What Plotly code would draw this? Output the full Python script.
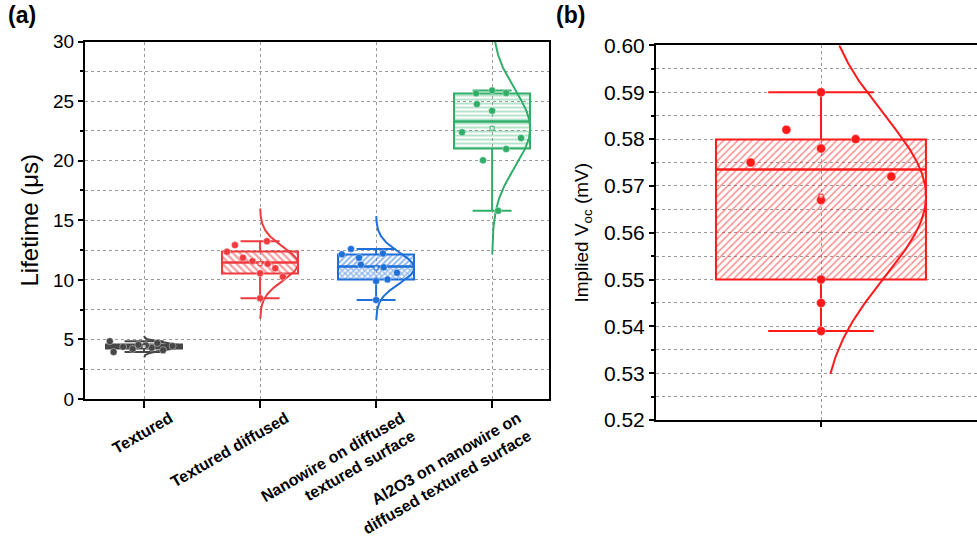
import numpy as np
import plotly.graph_objects as go

# ---- data -------------------------------------------------------------
categories = [
    "Textured",
    "Textured diffused",
    "Nanowire on diffused<br>textured surface",
    "Al2O3 on nanowire on<br>diffused textured surface",
]
lifetime_textured = [3.95, 4.10, 4.20, 4.30, 4.38, 4.45, 4.50, 4.55, 4.70, 4.85]
lifetime_diffused = [8.45, 10.27, 10.55, 10.97, 11.35, 11.57, 11.86, 12.36, 12.92, 13.25]
lifetime_nanowire = [8.31, 9.90, 10.04, 10.60, 11.05, 11.27, 11.86, 12.14, 12.22, 12.59]
lifetime_al2o3 = [15.80, 20.03, 20.98, 21.90, 22.38, 24.19, 24.75, 25.65, 25.68, 25.90]
implied_voc = [0.539, 0.545, 0.550, 0.567, 0.572, 0.575, 0.578, 0.580, 0.582, 0.590]

lifetime_ticks = [0, 5, 10, 15, 20, 25, 30]
voc_ticks = [0.52, 0.53, 0.54, 0.55, 0.56, 0.57, 0.58, 0.59, 0.60]

# ---- styling ----------------------------------------------------------
FONT = "Liberation Sans, Arial, sans-serif"
GRID = "#9a9a9a"

# horizontal spread of the raw points, as a fraction of the box half-width
jitter_textured = [-0.80, 0.50, -0.30, 0.20, -0.55, 0.75, 0.05, -0.15, 0.35, -0.90]
jitter_diffused = [0.00, 0.60, 0.00, 0.40, 0.20, -0.20, -0.45, -0.87, -0.66, 0.18]
jitter_nanowire = [0.00, 0.00, 0.30, 0.55, 0.20, -0.40, -0.45, -0.90, 0.18, -0.66]
jitter_al2o3 = [0.16, -0.24, 0.37, 0.76, -0.79, 0.00, -0.40, -0.42, 0.37, 0.00]
jitter_voc = [0.00, 0.00, 0.00, 0.00, 0.67, -0.67, 0.00, 0.33, -0.33, 0.00]

series_a = [
    dict(values=lifetime_textured, jitter=jitter_textured, color="#474747",
         patterns=[("", 4, 0.3), ("", 4, 0.3)]),
    dict(values=lifetime_diffused, jitter=jitter_diffused, color="#EE3B3F",
         patterns=[("\\", 5, 0.45), ("\\", 5, 0.45)]),
    dict(values=lifetime_nanowire, jitter=jitter_nanowire, color="#1F6FD8",
         patterns=[("x", 4, 0.6), ("/", 4, 0.5)]),
    dict(values=lifetime_al2o3, jitter=jitter_al2o3, color="#2FAE68",
         patterns=[("-", 4, 0.35), ("-", 4, 0.35)]),
]


def hinges(values):
    s = sorted(values)
    n = len(s)
    med = float(np.median(s))
    q1 = float(np.median(s[: n // 2]))
    q3 = float(np.median(s[(n + 1) // 2:]))
    return q1, med, q3


fig = go.Figure()


def add_box(values, x0, half, cap, amp, k, color, patterns, jitter, msize,
            xa, ya, lw=2):
    q1, med, q3 = hinges(values)
    lo, hi = min(values), max(values)
    mean = float(np.mean(values))
    sd = float(np.std(values, ddof=1))

    # box halves (lower: q1..median, upper: median..q3)
    for (base, top), (shape, psize, sol) in zip([(q1, med), (med, q3)], patterns):
        marker = dict(color=color, line=dict(color=color, width=lw))
        if shape:
            marker["pattern"] = dict(shape=shape, size=psize, solidity=sol,
                                     fgcolor=color, bgcolor="rgba(0,0,0,0)")
        fig.add_bar(x=[x0], y=[top - base], base=[base], width=2 * half,
                    marker=marker, xaxis=xa, yaxis=ya, showlegend=False,
                    hoverinfo="skip")

    # whiskers with caps at min / max
    fig.add_scatter(x=[x0, x0, None, x0, x0], y=[q3, hi, None, q1, lo],
                    mode="lines", line=dict(color=color, width=lw),
                    xaxis=xa, yaxis=ya, showlegend=False, hoverinfo="skip")
    fig.add_scatter(x=[x0 - cap, x0 + cap, None, x0 - cap, x0 + cap],
                    y=[hi, hi, None, lo, lo], mode="lines",
                    line=dict(color=color, width=lw),
                    xaxis=xa, yaxis=ya, showlegend=False, hoverinfo="skip")

    # normal distribution curve fitted to the sample
    yy = np.linspace(mean - k * sd, mean + k * sd, 200)
    xx = x0 + amp * np.exp(-0.5 * ((yy - mean) / sd) ** 2)
    fig.add_scatter(x=xx, y=yy, mode="lines", line=dict(color=color, width=lw),
                    xaxis=xa, yaxis=ya, showlegend=False, hoverinfo="skip")

    # raw data points
    fig.add_scatter(x=[x0 + j * half for j in jitter], y=values, mode="markers",
                    marker=dict(color=color, size=msize,
                                line=dict(color="rgba(255,255,255,0.55)", width=0.7)),
                    xaxis=xa, yaxis=ya, showlegend=False)

    # mean marker
    fig.add_scatter(x=[x0], y=[mean], mode="markers",
                    marker=dict(symbol="square", size=4, color="rgba(255,255,255,0.7)",
                                line=dict(color=color, width=1)),
                    xaxis=xa, yaxis=ya, showlegend=False, hoverinfo="skip")


for i, s in enumerate(series_a):
    add_box(s["values"], i + 1, half=0.328, cap=0.168, amp=0.328, k=3.3,
            color=s["color"], patterns=s["patterns"], jitter=s["jitter"],
            msize=7, xa="x", ya="y")

add_box(implied_voc, 0, half=0.636, cap=0.32, amp=0.636, k=2.2,
        color="#FF1A1A", patterns=[("/", 5, 0.3), ("/", 5, 0.3)],
        jitter=jitter_voc, msize=9, xa="x2", ya="y2")

axis_common = dict(showline=True, linecolor="black", linewidth=2,
                   ticks="outside", tickcolor="black", tickwidth=2,
                   zeroline=False, showgrid=True, gridcolor=GRID,
                   griddash="dot", gridwidth=1, automargin=False)

fig.update_layout(
    width=977, height=550,
    margin=dict(l=0, r=0, t=0, b=0),
    paper_bgcolor="white", plot_bgcolor="white",
    barmode="overlay", bargap=0,
    font=dict(family=FONT, color="black"),
    xaxis=dict(axis_common, domain=[0.087, 0.562], range=[0.491, 4.491],
               tickvals=[1, 2, 3, 4], ticktext=categories, tickangle=-30,
               ticklen=7, mirror=True, ticklabelshift=26, ticklabelstandoff=-5,
               tickfont=dict(size=16, weight="bold", family=FONT)),
    yaxis=dict(axis_common, domain=[0.2745, 0.9245], range=[0, 30],
               tickvals=lifetime_ticks, ticktext=[str(t) for t in lifetime_ticks],
               ticklen=5, mirror=True, tickfont=dict(size=19),
               minor=dict(dtick=2.5, ticklen=3, tickcolor="black", showgrid=True,
                          gridcolor=GRID, griddash="dot", gridwidth=1),
               title=dict(text="Lifetime (μs)", font=dict(size=24), standoff=8)),
    xaxis2=dict(axis_common, domain=[0.6714, 1.0], range=[-1, 0.945],
                tickvals=[0], showticklabels=False, ticklen=5, mirror=True,
                anchor="y2"),
    yaxis2=dict(axis_common, domain=[0.2364, 0.9173], range=[0.52, 0.60],
                tickvals=voc_ticks, ticktext=[f"{t:.2f}" for t in voc_ticks],
                ticklen=5, mirror=False, tickfont=dict(size=21), anchor="x2",
                minor=dict(dtick=0.005, ticklen=3, tickcolor="black", showgrid=True,
                           gridcolor=GRID, griddash="dot", gridwidth=1),
                title=dict(text="Implied V<sub>oc</sub> (mV)", font=dict(size=19),
                           standoff=10)),
    annotations=[
        dict(text="<b>(a)</b>", x=0.006, y=1.0, xref="paper", yref="paper",
             xanchor="left", yanchor="top", showarrow=False, font=dict(size=23)),
        dict(text="<b>(b)</b>", x=0.567, y=1.0, xref="paper", yref="paper",
             xanchor="left", yanchor="top", showarrow=False, font=dict(size=23)),
    ],
)

fig.write_html("out.html")
